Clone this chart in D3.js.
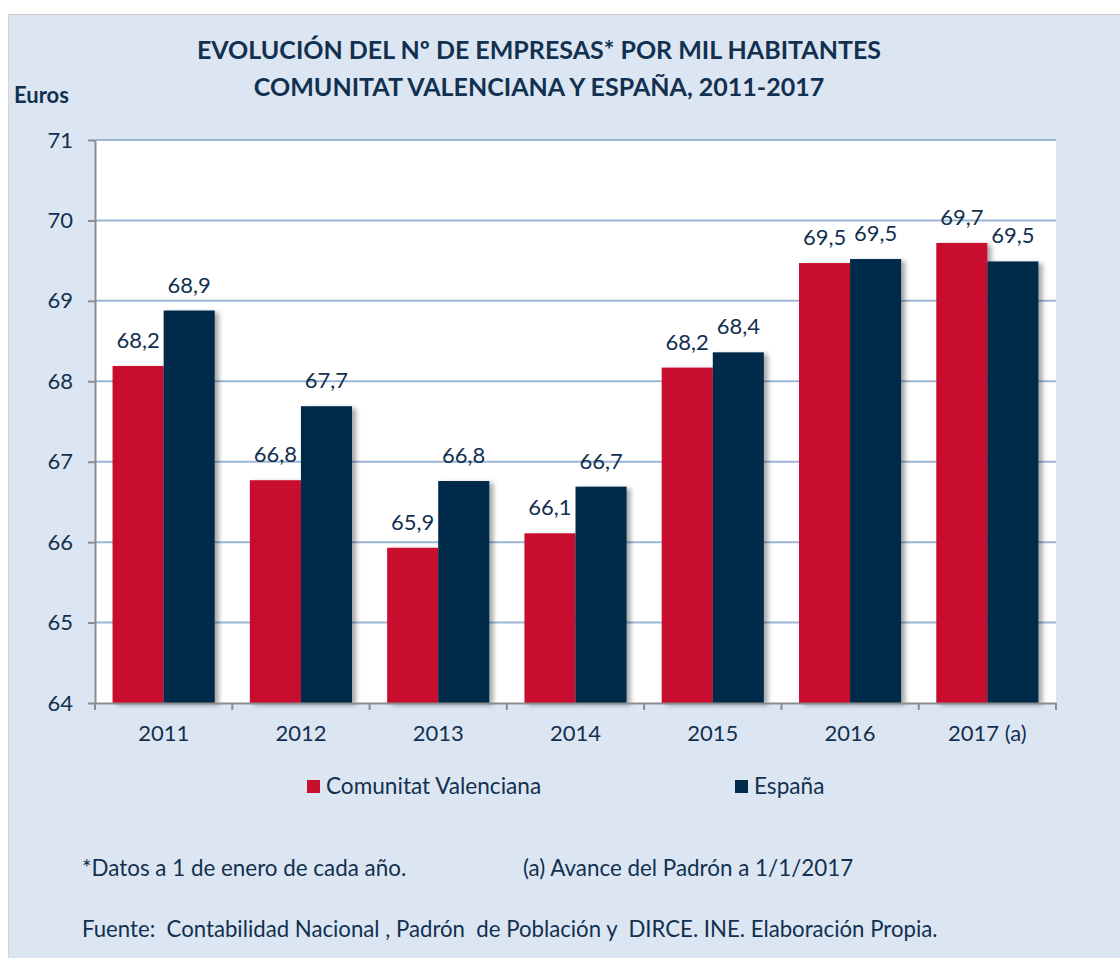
<!DOCTYPE html>
<html>
<head>
<meta charset="utf-8">
<script src="https://cdn.jsdelivr.net/npm/d3@7"></script>
<style>
  body { margin: 0; background: #ffffff; }
  text { font-family: Lato, "Open Sans", sans-serif; fill: #12304f; white-space: pre; }
</style>
</head>
<body>
<div id="chart"></div>
<script>
// data
let years = ["2011", "2012", "2013", "2014", "2015", "2016", "2017 (a)"];
let valenciana = [68.19, 66.77, 65.93, 66.11, 68.17, 69.47, 69.72];
let espana = [68.88, 67.69, 66.76, 66.69, 68.36, 69.52, 69.49];
let seriesNames = ["Comunitat Valenciana", "España"];
let yTicks = [64, 65, 66, 67, 68, 69, 70, 71];

let W = 1120, H = 958;
let margin = {top: 140, left: 95, right: 64, bottom: 255};
let width = W - margin.left - margin.right;
let height = H - margin.top - margin.bottom;

let colors = ["#c8102e", "#022a4a"];
let fontStack = "Lato, 'Open Sans', sans-serif";

let svg = d3.select("#chart").append("svg")
    .attr("width", W)
    .attr("height", H);

// drop shadow for the bars
let defs = svg.append("defs");
let f = defs.append("filter").attr("id", "shadow")
    .attr("x", "-20%").attr("y", "-20%").attr("width", "150%").attr("height", "150%");
f.append("feDropShadow")
    .attr("dx", 4).attr("dy", 2).attr("stdDeviation", 2.5)
    .attr("flood-color", "#000").attr("flood-opacity", 0.35);

// outer chart background
svg.append("rect")
    .attr("x", 8).attr("y", 14)
    .attr("width", W - 8).attr("height", H - 14)
    .attr("fill", "#dce6f2");
svg.append("line")
    .attr("x1", 8).attr("x2", W).attr("y1", 14.5).attr("y2", 14.5)
    .attr("stroke", "#c9c9c9");
svg.append("line")
    .attr("x1", 8.5).attr("x2", 8.5).attr("y1", 14).attr("y2", H)
    .attr("stroke", "#d4d4d4");

// title
let title = svg.append("text")
    .attr("text-anchor", "middle")
    .style("font-weight", "bold")
    .style("font-size", "25px");
title.append("tspan").attr("x", 539).attr("y", 59)
    .text("EVOLUCIÓN DEL Nº DE EMPRESAS* POR MIL HABITANTES");
title.append("tspan").attr("x", 539).attr("y", 96)
    .text("COMUNITAT VALENCIANA Y ESPAÑA, 2011-2017");

svg.append("text")
    .attr("x", 14).attr("y", 103)
    .style("font-weight", "bold")
    .style("font-size", "22px")
    .text("Euros");

let g = svg.append("g")
    .attr("transform", "translate(" + margin.left + "," + margin.top + ")");

g.append("rect")
    .attr("width", width).attr("height", height)
    .attr("fill", "#ffffff");

let y = d3.scaleLinear().domain([64, 71]).range([height, 0]);

let x0 = d3.scaleBand().domain(years).range([0, width]);
let inset = x0.bandwidth() * 0.128;
let x1 = d3.scaleBand().domain(seriesNames).range([inset, x0.bandwidth() - inset]);

// gridlines
g.append("g")
    .selectAll("line")
    .data(yTicks.slice(1))
    .enter().append("line")
      .attr("x1", 0).attr("x2", width)
      .attr("y1", d => y(d)).attr("y2", d => y(d))
      .attr("stroke", "#9cb6d6")
      .attr("stroke-width", 2);

let data = years.map((yr, i) => ({year: yr, values: [valenciana[i], espana[i]]}));

let groups = g.append("g")
    .selectAll("g")
    .data(data)
    .enter().append("g")
      .attr("transform", d => "translate(" + x0(d.year) + ",0)");

groups.selectAll("rect")
    .data(d => d.values.map((v, k) => ({key: seriesNames[k], k: k, v: v})))
    .enter().append("rect")
      .attr("x", d => x1(d.key))
      .attr("y", d => y(d.v))
      .attr("width", x1.bandwidth())
      .attr("height", d => y(64) - y(d.v))
      .attr("fill", d => colors[d.k])
      .attr("filter", "url(#shadow)");

groups.selectAll("text")
    .data(d => d.values.map((v, k) => ({key: seriesNames[k], k: k, v: v})))
    .enter().append("text")
      .attr("x", d => x1(d.key) + x1.bandwidth() / 2)
      .attr("y", d => y(d.v) - 18)
      .attr("text-anchor", "middle")
      .style("font-size", "22px")
      .text(d => d3.format(".1f")(d.v).replace(".", ","));

// y axis
let yAxis = g.append("g")
    .call(d3.axisLeft(y).tickValues(yTicks).tickFormat(d3.format("d"))
      .tickSize(7).tickSizeOuter(0).tickPadding(15));
yAxis.select(".domain").attr("stroke", "#8c8c8c").attr("stroke-width", 2);
yAxis.selectAll(".tick line").attr("stroke", "#8c8c8c").attr("stroke-width", 2);
yAxis.selectAll(".tick text")
    .style("font-size", "22px")
    .attr("fill", "#12304f")
    .style("font-family", fontStack);

// x axis, ticks at band boundaries
let xAxis = g.append("g")
    .attr("transform", "translate(0," + height + ")")
    .call(d3.axisBottom(x0).tickSize(0).tickPadding(22));
xAxis.select(".domain").attr("stroke", "#8c8c8c").attr("stroke-width", 2);
xAxis.selectAll(".tick text")
    .style("font-size", "22px")
    .attr("fill", "#12304f")
    .style("font-family", fontStack);
xAxis.selectAll(".bound")
    .data(d3.range(years.length + 1))
    .enter().append("line")
      .attr("class", "bound")
      .attr("x1", i => i * x0.step()).attr("x2", i => i * x0.step())
      .attr("y1", 0).attr("y2", 7)
      .attr("stroke", "#8c8c8c")
      .attr("stroke-width", 2);

// legend
let legendX = [307, 735];
let legend = svg.selectAll(".legend")
    .data(seriesNames)
    .enter().append("g")
      .attr("class", "legend")
      .attr("transform", (d, i) => "translate(" + legendX[i] + ",780)");
legend.append("rect")
    .attr("width", 13).attr("height", 13)
    .attr("fill", (d, i) => colors[i]);
legend.append("text")
    .attr("x", 19).attr("y", 14)
    .style("font-size", "22.6px")
    .text(d => d);

// notes
svg.append("text").attr("x", 82).attr("y", 876)
    .style("font-size", "22.4px")
    .text("*Datos a 1 de enero de cada año.");
svg.append("text").attr("x", 523).attr("y", 876)
    .style("font-size", "22.4px")
    .text("(a) Avance del Padrón a 1/1/2017");
svg.append("text").attr("x", 82).attr("y", 937)
    .style("font-size", "22.2px")
    .text("Fuente:  Contabilidad Nacional , Padrón  de Población y  DIRCE. INE. Elaboración Propia.");
</script>
</body>
</html>
